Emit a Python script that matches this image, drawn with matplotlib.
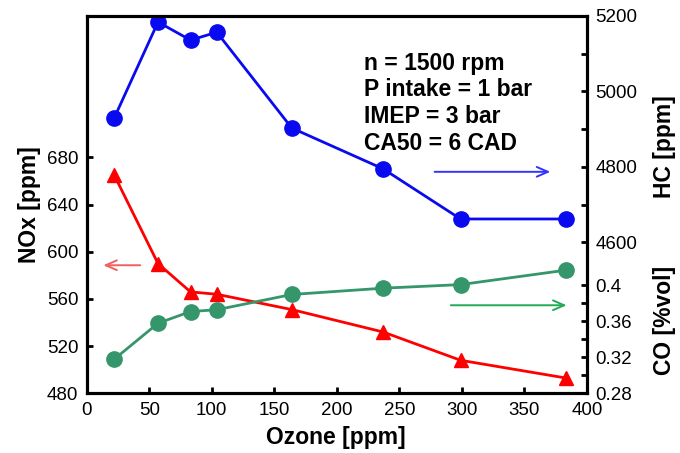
import matplotlib
matplotlib.use("Agg")
import matplotlib.pyplot as plt

plt.rcParams['font.family'] = ['Liberation Sans', 'DejaVu Sans']

ozone = [22, 57, 83, 104, 164, 237, 299, 383]
nox = [665, 590, 566, 564, 551, 532, 508, 493]
hc = [4930, 5184, 5136, 5157, 4903, 4795, 4662, 4662]
co = [0.318, 0.358, 0.371, 0.373, 0.390, 0.397, 0.401, 0.417]

blue = '#0a0af0'
red = '#ff0000'
green = '#34966a'

fig = plt.figure(figsize=(6.8, 4.53), dpi=100)
ax = fig.add_axes([0.1276, 0.1318, 0.7354, 0.8329])
axh = ax.twinx()
axc = ax.twinx()

ax.plot(ozone, nox, color=red, lw=2, marker='^', ms=10, zorder=3)
axh.plot(ozone, hc, color=blue, lw=2, marker='o', ms=11)
axc.plot(ozone, co, color=green, lw=2, marker='o', ms=11)

ax.set_xlim(0, 400)
ax.set_ylim(480, 800)
axh.set_ylim(4200, 5200)
axc.set_ylim(0.28, 0.70)

ax.set_xticks(range(0, 401, 50))
ax.set_yticks(range(480, 681, 40))
axh.set_yticks(range(4600, 5201, 100))
axh.set_yticklabels([str(v) if v % 200 == 0 else '' for v in range(4600, 5201, 100)])
co_ticks = [0.28, 0.30, 0.32, 0.34, 0.36, 0.38, 0.40]
axc.set_yticks(co_ticks)
axc.set_yticklabels(['0.28', '', '0.32', '', '0.36', '', '0.4'])

for a in (ax, axh, axc):
    for s in a.spines.values():
        s.set_linewidth(2.2)
    a.tick_params(direction='in', length=4, width=2, labelsize=13.5, pad=6)

lab = dict(fontsize=16.5, fontweight='bold', ha='center', va='center', transform=ax.transAxes)
ax.text(0.498, -0.118, 'Ozone [ppm]', **lab)
ax.text(-0.115, 0.5, 'NOx [ppm]', rotation=90, **lab)
ax.text(1.156, 0.653, 'HC [ppm]', rotation=90, **lab)
ax.text(1.156, 0.192, 'CO [%vol]', rotation=90, **lab)

ax.text(0.555, 0.905, 'n = 1500 rpm\nP intake = 1 bar\nIMEP = 3 bar\nCA50 = 6 CAD',
        transform=ax.transAxes, fontsize=16.5, fontweight='bold', va='top',
        linespacing=1.2)

ax.annotate('', xy=(11, 588.6), xytext=(45, 588.6),
            arrowprops=dict(arrowstyle='->,head_length=0.8,head_width=0.35', color='#f06060', lw=1.4))
axh.annotate('', xy=(373, 4787), xytext=(276, 4787),
             arrowprops=dict(arrowstyle='->,head_length=0.8,head_width=0.35', color='#3333ff', lw=1.4))
axc.annotate('', xy=(386, 0.378), xytext=(289, 0.378),
             arrowprops=dict(arrowstyle='->,head_length=0.8,head_width=0.35', color='#22aa55', lw=1.4))

fig.savefig('out.png', dpi=100)
